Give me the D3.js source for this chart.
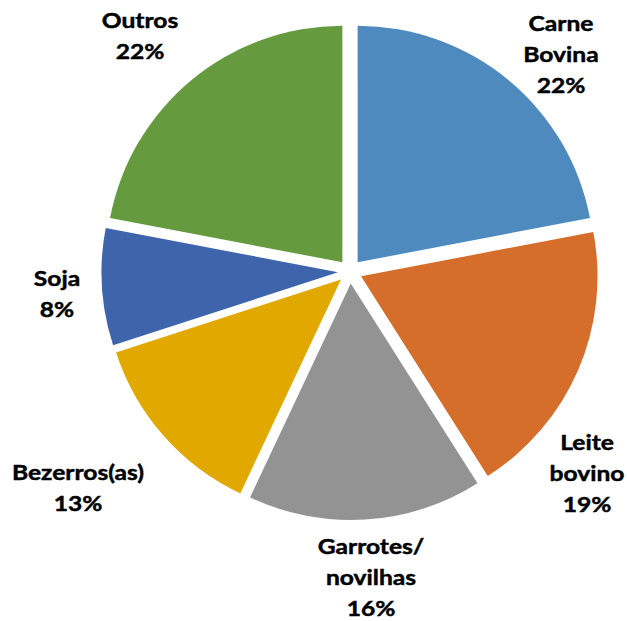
<!DOCTYPE html>
<html>
<head>
<meta charset="utf-8">
<script src="https://cdn.jsdelivr.net/npm/d3@7"></script>
<style>
  html, body { margin: 0; padding: 0; background: #fff; }
  svg { display: block; }
  text { font-family: Lato, "Open Sans", "Liberation Sans", sans-serif; font-weight: bold; fill: #000; }
</style>
</head>
<body>
<svg id="chart" width="627" height="621"></svg>
<script>
// ---- data ----
const categories = ["Carne Bovina", "Leite bovino", "Garrotes/novilhas", "Bezerros(as)", "Soja", "Outros"];
const values = [22, 19, 16, 13, 8, 22];
const labelLines = [
  ["Carne", "Bovina", "22%"],
  ["Leite", "bovino", "19%"],
  ["Garrotes/", "novilhas", "16%"],
  ["Bezerros(as)", "13%"],
  ["Soja", "8%"],
  ["Outros", "22%"]
];
const colors = ["#4F8ABE", "#D56E2A", "#939393", "#E1A900", "#3E64AC", "#669A3F"];

// ---- layout (not data) ----
const W = 627, H = 621;
const cx = 350, cy = 271.5, radius = 236.5, explode = 12;
const labelCenters = [[561, 55], [587, 474], [371, 578], [78, 488], [57, 294], [140, 36]];
const lineH = 31;

const svg = d3.select("#chart");
const g = svg.append("g").attr("transform", `translate(${cx},${cy})`);

const pie = d3.pie().sort(null).value(d => d);
const arcs = pie(values);
const arc = d3.arc().innerRadius(0).outerRadius(radius);

g.selectAll("path.slice")
  .data(arcs)
  .join("path")
  .attr("class", "slice")
  .attr("d", arc)
  .attr("fill", (d, i) => colors[i])
  .attr("transform", d => {
    const a = (d.startAngle + d.endAngle) / 2;
    return `translate(${explode * Math.sin(a)},${-explode * Math.cos(a)})`;
  });

const lg = svg.append("g");
labelLines.forEach((lines, i) => {
  const [x, y] = labelCenters[i];
  const n = lines.length;
  const t = lg.append("text")
    .attr("text-anchor", "middle")
    .attr("font-size", 20.5)
    .attr("stroke", "#000")
    .attr("stroke-width", 0.45)
    .attr("transform", `translate(${x},${y}) scale(1.2,1)`);
  lines.forEach((ln, k) => {
    t.append("tspan")
      .attr("x", 0)
      .attr("y", (k - (n - 1) / 2) * lineH)
      .attr("dy", "0.35em")
      .text(ln);
  });
});
</script>
</body>
</html>
